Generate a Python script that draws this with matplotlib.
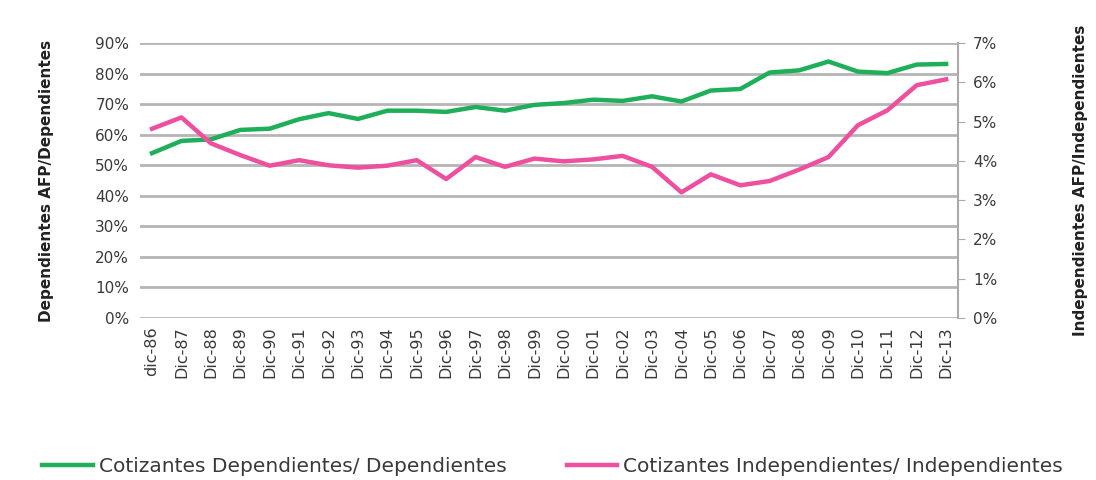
import matplotlib.pyplot as plt
from matplotlib.ticker import PercentFormatter

years = ["dic-86"] + ["Dic-%02d" % (y % 100) for y in range(1987, 2014)]

# Cotizantes dependientes / dependientes (%)
dependientes = [54, 58, 58.5, 61.6, 62, 65.1, 67.1, 65.2, 67.9, 67.9, 67.5, 69.1, 67.9, 69.8,
                70.4, 71.5, 71.1, 72.6, 70.9, 74.5, 75, 80.4, 81.1, 84, 80.7, 80.2, 83, 83.2]

# Cotizantes independientes / independientes (%)
independientes = [4.82, 5.11, 4.45, 4.15, 3.88, 4.02, 3.89, 3.83, 3.88, 4.02, 3.54, 4.10, 3.85, 4.06,
                  3.99, 4.04, 4.13, 3.85, 3.20, 3.66, 3.38, 3.49, 3.78, 4.10, 4.91, 5.29, 5.93, 6.08]

green = "#1fae5a"
pink = "#ee4f9f"
txt = "#3a3a3a"

plt.rcParams['font.family'] = ['DejaVu Sans']

fig = plt.figure(figsize=(10.96, 4.8), dpi=100)
ax = fig.add_axes([0.128, 0.3375, 0.746, 0.5725])
ax2 = ax.twinx()

x = range(len(years))
l1, = ax.plot(x, dependientes, color=green, lw=3.2, zorder=3)
l2, = ax2.plot(x, independientes, color=pink, lw=3.2, zorder=3)

ax.set_ylim(0, 90)
ax.set_yticks(range(0, 91, 10))
ax.yaxis.set_major_formatter(PercentFormatter(decimals=0))
ax2.set_ylim(0, 7)
ax2.set_yticks(range(0, 8))
ax2.yaxis.set_major_formatter(PercentFormatter(decimals=0))

ax.set_xlim(-0.4, len(years) - 0.6)
ax.set_xticks(list(x))
ax.set_xticklabels(years, rotation=90, fontsize=11.5, color=txt)
ax.tick_params(axis='x', length=0, pad=6)
ax.tick_params(axis='y', length=0, labelsize=11, colors=txt, pad=8)
ax2.tick_params(axis='y', length=5, color="#aaaaaa", labelsize=11, colors=txt, pad=6)

ax.grid(axis='y', color="#b5b5b5", lw=2)
for a in (ax, ax2):
    for s in ("top", "left", "bottom"):
        a.spines[s].set_visible(False)
ax.spines["right"].set_visible(False)
ax2.spines["right"].set_color("#aaaaaa")
ax2.spines["right"].set_linewidth(1.5)

ax.set_ylabel("Dependientes AFP/Dependientes", fontsize=11, fontweight="bold", color="#222222", labelpad=30)
ax2.set_ylabel("Independientes AFP/Independientes", fontsize=11, fontweight="bold", color="#222222", labelpad=54)

fig.legend([l1, l2], ["Cotizantes Dependientes/ Dependientes", "Cotizantes Independientes/ Independientes"],
           loc="lower left", bbox_to_anchor=(0.022, -0.03), ncol=2, frameon=False, fontsize=14.5,
           handlelength=2.5, handletextpad=0.3, columnspacing=3.0, labelcolor=txt)

fig.savefig("out.png", dpi=100)
